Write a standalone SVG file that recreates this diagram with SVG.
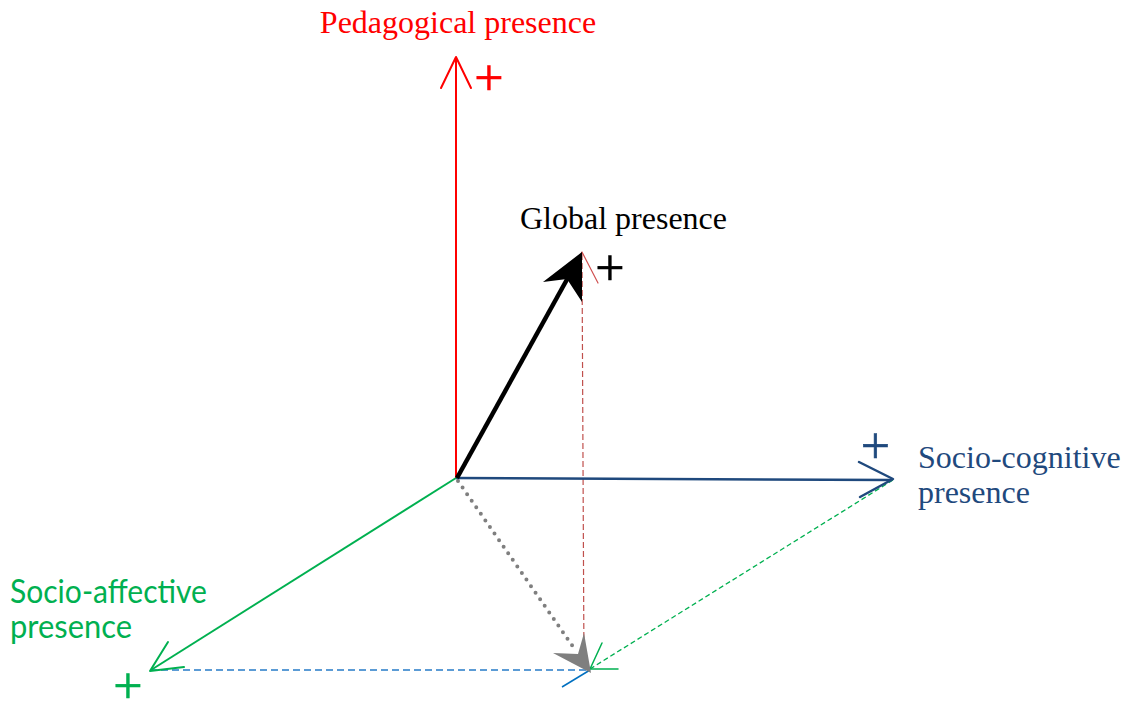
<svg xmlns="http://www.w3.org/2000/svg" width="1126" height="701" viewBox="0 0 1126 701">
<style>
.serif{font-family:"Liberation Serif","Times New Roman",serif;font-size:32px}
.sans{font-family:Lato,"Open Sans","Liberation Sans",sans-serif;font-size:32px}
.plus{font-family:"Liberation Serif","Times New Roman",serif;font-size:52px;text-anchor:middle;stroke-width:0.6px}
.open{fill:none;stroke-linecap:round;stroke-linejoin:round}
</style>
<rect width="1126" height="701" fill="#ffffff"/>
<g id="connectors">
  <line x1="150" y1="670" x2="590" y2="670" stroke="#5B9BD5" stroke-width="1.8" stroke-dasharray="7 4"/>
  <line x1="590" y1="669" x2="893" y2="480" stroke="#00B050" stroke-width="1.3" stroke-dasharray="5 3"/>
  <line x1="582" y1="254" x2="584" y2="668" stroke="#C0504D" stroke-width="1.2" stroke-dasharray="6 3"/>
  <polyline class="open" points="566,283 582,252 598,283" stroke="#D05050" stroke-width="1.2"/>
  <polyline class="open" points="602,643 590,669 618,669" stroke="#00B050" stroke-width="1.5"/>
  <line x1="590" y1="670" x2="562" y2="687" stroke="#0070C0" stroke-width="1.5"/>
  <line x1="458" y1="481" x2="576" y2="651" stroke="#7F7F7F" stroke-width="4" stroke-linecap="round" stroke-dasharray="0 8"/>
  <polygon points="591,673 553,653 578,654 584,633" fill="#7F7F7F"/>
  <g id="axis-pedagogical">
    <line x1="456" y1="478" x2="456" y2="58" stroke="#FF0000" stroke-width="2"/>
    <polyline class="open" points="441,88 456,57 471,88" stroke="#FF0000" stroke-width="2"/>
  </g>
  <g id="axis-sociocognitive">
    <line x1="456" y1="478" x2="892" y2="480" stroke="#1F497D" stroke-width="2.5"/>
    <polyline class="open" points="859,462 893,479 860,497" stroke="#1F497D" stroke-width="2.5"/>
  </g>
  <g id="axis-socioaffective">
    <line x1="456" y1="478" x2="151" y2="670" stroke="#00B050" stroke-width="2"/>
    <polyline class="open" points="168,642 150,671 184,667" stroke="#00B050" stroke-width="2"/>
  </g>
  <g id="vector-global">
    <line x1="457" y1="478" x2="570" y2="274" stroke="#000000" stroke-width="4.5"/>
    <polygon points="582,252 543,282 567,279 582,302" fill="#000000"/>
  </g>
</g>
<g id="node-pedagogical">
  <text class="serif" x="458" y="33" fill="#FF0000" text-anchor="middle">Pedagogical presence</text>
  <text class="plus" x="489" y="95" fill="#FF0000" stroke="#FF0000">+</text>
</g>
<g id="node-global">
  <text class="serif" x="520" y="229" fill="#000000">Global presence</text>
  <text class="plus" x="610" y="285" fill="#000000" stroke="#000000">+</text>
</g>
<g id="node-sociocognitive">
  <text class="serif" x="918" y="468" fill="#1F497D">Socio-cognitive</text>
  <text class="serif" x="918" y="503" fill="#1F497D">presence</text>
  <text class="plus" x="875.5" y="463" fill="#1F497D" stroke="#1F497D">+</text>
</g>
<g id="node-socioaffective">
  <text class="sans" x="10" y="603" fill="#00B050" textLength="197" lengthAdjust="spacingAndGlyphs">Socio-affective</text>
  <text class="sans" x="10" y="638" fill="#00B050" textLength="122" lengthAdjust="spacingAndGlyphs">presence</text>
  <text class="plus" x="128" y="703" fill="#00B050" stroke="#00B050">+</text>
</g>
</svg>
